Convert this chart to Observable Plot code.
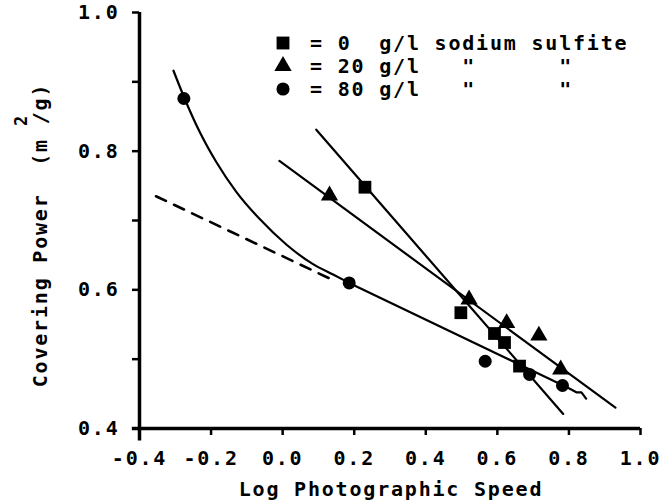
<!DOCTYPE html>
<html><head><meta charset="utf-8">
<script src="https://cdn.jsdelivr.net/npm/d3@7"></script>
<script src="https://cdn.jsdelivr.net/npm/@observablehq/plot@0.6"></script>
<style>
body{margin:0;background:#fff;}
svg text{white-space:pre;}
</style></head><body><div id="chart"></div>
<script>
// ---- measured points ----
const sq0X = [0.230, 0.498, 0.592, 0.620, 0.662];
const sq0Y = [0.748, 0.567, 0.537, 0.524, 0.490];
const tri20X = [0.131, 0.521, 0.626, 0.716, 0.777];
const tri20Y = [0.736, 0.586, 0.552, 0.534, 0.485];
const circ80X = [-0.276, 0.186, 0.566, 0.690, 0.782];
const circ80Y = [0.876, 0.610, 0.497, 0.478, 0.462];
// ---- fitted lines ----
const fit0X = [0.094, 0.784];
const fit0Y = [0.831, 0.421];
const fit20X = [-0.009, 0.930];
const fit20Y = [0.786, 0.430];
const fit80CurveX = [-0.305, -0.274, -0.232, -0.185, -0.129, -0.064, 0.011, 0.085, 0.141, 0.186];
const fit80CurveY = [0.916, 0.876, 0.828, 0.784, 0.741, 0.702, 0.665, 0.637, 0.622, 0.610];
const fit80LineX = [0.186, 0.800, 0.822, 0.835, 0.848];
const fit80LineY = [0.610, 0.458, 0.452, 0.452, 0.443];
const extrapX = [-0.354, 0.149];
const extrapY = [0.735, 0.612];
// ---- ticks ----
const xTicks = [-0.4, -0.2, 0.0, 0.2, 0.4, 0.6, 0.8, 1.0];
const xTickLabels = ["-0.4", "-0.2", "0.0", "0.2", "0.4", "0.6", "0.8", "1.0"];
const yTicks = [0.4, 0.6, 0.8, 1.0];
const yTickLabels = ["0.4", "0.6", "0.8", "1.0"];
const yMinorTicks = [0.5, 0.7, 0.9];
// ---- legend ----
const legendSymbols = ["square", "triangle", "circle"];
const legendLabels = ["= 0  g/l sodium sulfite", "= 20 g/l   \"      \"", "= 80 g/l   \"      \""];
const xTitle = "Log Photographic Speed";
const yTitle = "Covering Power  (m /g)";

const pts = (xs, ys) => xs.map((x, i) => ({x, y: ys[i]}));
const xMap = new Map(xTicks.map((t, i) => [t, xTickLabels[i]]));
const yMap = new Map(yTicks.map((t, i) => [t, yTickLabels[i]]));

const plot = Plot.plot({
  width: 666, height: 500,
  marginLeft: 139, marginRight: 26, marginTop: 12, marginBottom: 72,
  x: {domain: [-0.4, 1.0]},
  y: {domain: [0.4, 1.0]},
  style: {fontFamily: "'DejaVu Sans Mono', monospace", fontSize: "20px", fontWeight: "bold", color: "#000", background: "#fff", letterSpacing: "1.8px", overflow: "visible"},
  marks: [
    Plot.axisY({ticks: yMinorTicks, tickSize: 7, strokeWidth: 2.5, text: null, label: null}),
    Plot.axisY({ticks: yTicks, tickSize: 7, tickPadding: 13, strokeWidth: 2.5, tickFormat: d => yMap.get(d), label: null}),
    Plot.axisX({ticks: xTicks, tickSize: 7, tickPadding: 15, strokeWidth: 2.5, tickFormat: d => xMap.get(d), label: null}),
    Plot.ruleX([-0.4], {strokeWidth: 3.5, y1: 0.382, y2: 1.0}),
    Plot.ruleY([0.4], {strokeWidth: 3.5, x1: -0.42, x2: 1.0}),
    Plot.line(pts(extrapX, extrapY), {x: "x", y: "y", strokeWidth: 2.6, strokeDasharray: "11,9"}),
    Plot.line(pts(fit0X, fit0Y), {x: "x", y: "y", strokeWidth: 2.2}),
    Plot.line(pts(fit20X, fit20Y), {x: "x", y: "y", strokeWidth: 2.2}),
    Plot.line(pts(fit80CurveX, fit80CurveY), {x: "x", y: "y", strokeWidth: 2.2, curve: "monotone-x"}),
    Plot.line(pts(fit80LineX, fit80LineY), {x: "x", y: "y", strokeWidth: 2.2}),
    Plot.dot(pts(sq0X, sq0Y), {x: "x", y: "y", symbol: "square", r: 7.2, fill: "#000"}),
    Plot.dot(pts(tri20X, tri20Y), {x: "x", y: "y", symbol: "triangle", r: 6.4, fill: "#000"}),
    Plot.dot(pts(circ80X, circ80Y), {x: "x", y: "y", symbol: "circle", r: 6.5, fill: "#000"})
  ]
});
document.getElementById("chart").appendChild(plot);

const svg = d3.select(plot);
// x title
svg.append("text").attr("x", 391).attr("y", 489).attr("text-anchor", "middle").attr("dy", "0.35em").text(xTitle);
// y title
svg.append("text").attr("transform", "translate(40,235) rotate(-90)").attr("text-anchor", "middle").attr("dy", "0.35em").text(yTitle);
svg.append("text").attr("transform", "translate(21,120) rotate(-90)").attr("text-anchor", "middle").attr("dy", "0.35em").attr("font-size", 17).text("2");
// legend
const symMap = {square: d3.symbolSquare, triangle: d3.symbolTriangle, circle: d3.symbolCircle};
const symSize = {square: 165, triangle: 130, circle: 135};
const legendY = [43, 66, 89];
legendSymbols.forEach((s, i) => {
  svg.append("path").attr("transform", `translate(283,${legendY[i]})`).attr("d", d3.symbol(symMap[s], symSize[s])()).attr("fill", "#000");
  svg.append("text").attr("x", 310).attr("y", legendY[i]).attr("dy", "0.35em").attr("text-anchor", "start").text(legendLabels[i]);
});
</script></body></html>
